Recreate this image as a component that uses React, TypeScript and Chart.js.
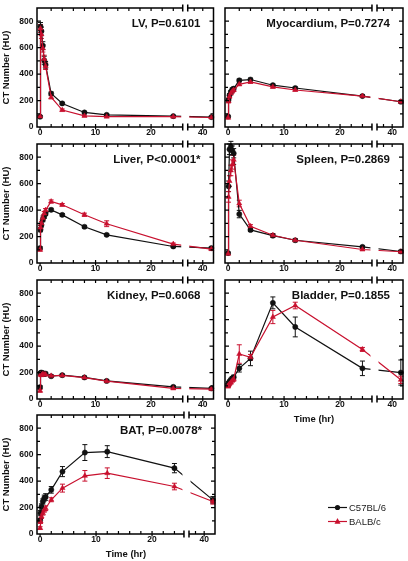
import { useEffect, useRef } from 'react';
import { Chart, registerables } from 'chart.js';

Chart.register(...registerables);

// Sampling times (hours after injection)
const hours = [0, 0.083, 0.25, 0.5, 0.75, 1, 2, 4, 8, 12, 24, 42];
const xTickHours = [0, 10, 20, 40];
const xMinorHours = [2, 4, 6, 8, 10, 12, 14, 16, 18, 20, 22, 24, 38, 40];
const yTickValues = [0, 200, 400, 600, 800];
const yMinorValues = [100, 200, 300, 400, 500, 600, 700, 800];

const strainNames = ['C57BL/6', 'BALB/c'];

// CT number (HU), mean and error per tissue
const lvC57 = [78, 760, 725, 615, 505, 470, 253, 178, 110, 92, 82, 75];
const lvC57Err = [8, 30, 30, 30, 30, 25, 12, 8, 6, 5, 5, 5];
const lvBalb = [80, 745, 700, 595, 515, 460, 225, 128, 84, 78, 78, 72];
const lvBalbErr = [8, 30, 30, 28, 28, 25, 12, 8, 6, 5, 5, 5];

const myoC57 = [80, 205, 240, 265, 283, 290, 353, 359, 316, 295, 234, 191];
const myoC57Err = [8, 12, 12, 12, 12, 12, 10, 10, 8, 8, 8, 8];
const myoBalb = [70, 195, 230, 255, 270, 280, 323, 341, 303, 280, 234, 191];
const myoBalbErr = [8, 12, 12, 12, 12, 12, 10, 10, 8, 8, 8, 8];

const liverC57 = [113, 251, 287, 327, 352, 372, 402, 364, 274, 213, 125, 113];
const liverC57Err = [10, 15, 15, 15, 15, 12, 12, 10, 10, 8, 8, 8];
const liverBalb = [100, 268, 300, 340, 375, 400, 465, 440, 365, 297, 143, 105];
const liverBalbErr = [10, 15, 15, 15, 15, 12, 12, 10, 12, 22, 8, 8];

const spleenC57 = [75, 580, 860, 880, 850, 830, 370, 250, 207, 172, 122, 87];
const spleenC57Err = [8, 40, 40, 40, 35, 35, 28, 12, 12, 10, 8, 8];
const spleenBalb = [70, 500, 620, 700, 745, 780, 450, 278, 210, 172, 102, 85];
const spleenBalbErr = [8, 40, 40, 40, 35, 35, 25, 12, 12, 10, 8, 8];

const kidneyC57 = [90, 197, 200, 195, 190, 192, 172, 180, 163, 137, 92, 80];
const kidneyC57Err = [10, 10, 10, 10, 10, 10, 8, 8, 8, 8, 8, 6];
const kidneyBalb = [62, 185, 180, 190, 185, 185, 175, 178, 162, 135, 80, 75];
const kidneyBalbErr = [10, 10, 10, 10, 10, 10, 8, 8, 8, 8, 8, 6];

const bladderC57 = [107, 120, 132, 145, 157, 165, 232, 307, 727, 545, 232, 200];
const bladderC57Err = [10, 10, 10, 12, 12, 15, 28, 55, 45, 75, 55, 95];
const bladderBalb = [95, 105, 115, 125, 140, 150, 340, 315, 620, 707, 375, 145];
const bladderBalbErr = [10, 10, 10, 12, 12, 15, 70, 22, 50, 25, 15, 28];

const batC57 = [103, 158, 208, 246, 272, 280, 334, 472, 616, 623, 498, 258];
const batC57Err = [15, 20, 20, 20, 22, 25, 25, 38, 60, 45, 35, 25];
const batBalb = [45, 95, 133, 158, 183, 195, 259, 347, 440, 460, 359, 246];
const batBalbErr = [10, 15, 15, 15, 18, 18, 15, 30, 40, 40, 25, 20];

const BLACK = '#111111';
const RED = '#c8102e';
const FONT = "'Liberation Sans', Arial, Helvetica, sans-serif";

// Broken time axis: 0-25.7 h, a short gap, then 36.5-42.5 h compressed
const AXIS_MIN = -0.55;
const MAIN_END = 25.7;
const GAP = 0.9;
const TAIL_START = 36.5;
const TAIL_END = 42.5;
const TAIL_SCALE = 0.774;
const toAxis = (h: number) =>
  h <= MAIN_END ? h : MAIN_END + GAP + (h - TAIL_START) * TAIL_SCALE;

// Frame placement on the page
const COL_LEFT = [37, 225];
const COL_RIGHT = [215, 403];
const ROW_TOP = [8, 144, 280, 415];
const FRAME_H = 119;

type Panel = {
  title: string;
  c57: number[];
  c57Err: number[];
  balb: number[];
  balbErr: number[];
  col: number;
  row: number;
  timeTitle?: boolean;
  legend?: boolean;
};

const panels: Panel[] = [
  { title: 'LV, P=0.6101', c57: lvC57, c57Err: lvC57Err, balb: lvBalb, balbErr: lvBalbErr, col: 0, row: 0 },
  { title: 'Myocardium, P=0.7274', c57: myoC57, c57Err: myoC57Err, balb: myoBalb, balbErr: myoBalbErr, col: 1, row: 0 },
  { title: 'Liver, P<0.0001*', c57: liverC57, c57Err: liverC57Err, balb: liverBalb, balbErr: liverBalbErr, col: 0, row: 1 },
  { title: 'Spleen, P=0.2869', c57: spleenC57, c57Err: spleenC57Err, balb: spleenBalb, balbErr: spleenBalbErr, col: 1, row: 1 },
  { title: 'Kidney, P=0.6068', c57: kidneyC57, c57Err: kidneyC57Err, balb: kidneyBalb, balbErr: kidneyBalbErr, col: 0, row: 2 },
  { title: 'Bladder, P=0.1855', c57: bladderC57, c57Err: bladderC57Err, balb: bladderBalb, balbErr: bladderBalbErr, col: 1, row: 2, timeTitle: true },
  { title: 'BAT, P=0.0078*', c57: batC57, c57Err: batC57Err, balb: batBalb, balbErr: batBalbErr, col: 0, row: 3, timeTitle: true, legend: true },
];

function drawMarker(ctx: CanvasRenderingContext2D, style: string, x: number, y: number, r: number, color: string) {
  ctx.fillStyle = color;
  ctx.beginPath();
  if (style === 'triangle') {
    ctx.moveTo(x, y - r * 1.15);
    ctx.lineTo(x + r, y + r * 0.75);
    ctx.lineTo(x - r, y + r * 0.75);
    ctx.closePath();
  } else {
    ctx.arc(x, y, r, 0, Math.PI * 2);
  }
  ctx.fill();
}

// Vertical error bars with caps, drawn under the markers
const errorBars = {
  id: 'errorBars',
  beforeDatasetsDraw(chart: any) {
    const { ctx } = chart;
    const ys = chart.scales.y;
    ctx.save();
    ctx.lineWidth = 1;
    chart.data.datasets.forEach((ds: any, i: number) => {
      const meta = chart.getDatasetMeta(i);
      ctx.strokeStyle = ds.borderColor;
      ctx.beginPath();
      meta.data.forEach((pt: any, j: number) => {
        const v = ds.data[j].y;
        const e = ds.errors[j];
        const y0 = ys.getPixelForValue(v - e);
        const y1 = ys.getPixelForValue(v + e);
        ctx.moveTo(pt.x, y0);
        ctx.lineTo(pt.x, y1);
        ctx.moveTo(pt.x - 2.5, y0);
        ctx.lineTo(pt.x + 2.5, y0);
        ctx.moveTo(pt.x - 2.5, y1);
        ctx.lineTo(pt.x + 2.5, y1);
      });
      ctx.stroke();
    });
    ctx.restore();
  },
};

// Boxed frame with inward ticks, the axis break, panel title and key
const panelDecor = {
  id: 'panelDecor',
  afterDatasetsDraw(chart: any, _args: any, opts: any) {
    const { ctx } = chart;
    const { left: L, right: R, top: T, bottom: B } = chart.chartArea;
    const xs = chart.scales.x;
    const ys = chart.scales.y;
    const g0 = xs.getPixelForValue(MAIN_END);
    const g1 = xs.getPixelForValue(MAIN_END + GAP);
    ctx.save();

    ctx.fillStyle = '#ffffff';
    ctx.fillRect(g0 - 1.5, T - 5, g1 - g0 + 3, B - T + 10);

    ctx.strokeStyle = '#000';
    ctx.lineWidth = 1.5;
    ctx.lineJoin = 'miter';
    ctx.beginPath();
    ctx.moveTo(g0, T);
    ctx.lineTo(L, T);
    ctx.lineTo(L, B);
    ctx.lineTo(g0, B);
    ctx.moveTo(g1, T);
    ctx.lineTo(R, T);
    ctx.lineTo(R, B);
    ctx.lineTo(g1, B);
    for (const y of [T, B]) {
      ctx.moveTo(g0, y - 3.5);
      ctx.lineTo(g0, y + 3.5);
      ctx.moveTo(g1, y - 3.5);
      ctx.lineTo(g1, y + 3.5);
    }
    ctx.stroke();

    ctx.lineWidth = 1.2;
    ctx.beginPath();
    for (const h of xMinorHours) {
      const px = xs.getPixelForValue(toAxis(h));
      ctx.moveTo(px, T);
      ctx.lineTo(px, T + 3);
      ctx.moveTo(px, B);
      ctx.lineTo(px, B - 3);
    }
    for (const h of xTickHours) {
      const px = xs.getPixelForValue(toAxis(h));
      ctx.moveTo(px, B);
      ctx.lineTo(px, B + 2.5);
    }
    for (const v of yMinorValues) {
      const py = ys.getPixelForValue(v);
      const len = v % 200 === 0 ? 4 : 3;
      ctx.moveTo(L, py);
      ctx.lineTo(L + len, py);
      ctx.moveTo(R, py);
      ctx.lineTo(R - len, py);
    }
    ctx.stroke();

    ctx.fillStyle = '#111';
    ctx.font = `bold 11.5px ${FONT}`;
    ctx.textAlign = 'right';
    ctx.textBaseline = 'middle';
    ctx.fillText(opts.title, R - 13, T + 16);

    if (opts.legend) {
      ctx.font = `9.5px ${FONT}`;
      ctx.textAlign = 'left';
      chart.data.datasets.forEach((ds: any, i: number) => {
        const y = 98.5 + i * 14;
        const x0 = 328;
        ctx.strokeStyle = ds.borderColor;
        ctx.lineWidth = 1.2;
        ctx.beginPath();
        ctx.moveTo(x0, y);
        ctx.lineTo(x0 + 19, y);
        ctx.stroke();
        drawMarker(ctx, ds.pointStyle, x0 + 9.5, y, ds.pointStyle === 'triangle' ? 3 : 2.6, ds.borderColor);
        ctx.fillStyle = '#222';
        ctx.fillText(ds.label, x0 + 21, y + 0.5);
      });
    }
    ctx.restore();
  },
};

function geometry(p: Panel) {
  const left = p.col === 0 ? 0 : 218;
  const w = p.legend ? 408 : p.col === 0 ? 218 : 190;
  const top = ROW_TOP[p.row] - 6;
  const xh = p.timeTitle ? 28 : 14;
  const h = 6 + FRAME_H + xh;
  return { left, w, top, h, xh, yw: COL_LEFT[p.col] - left, padRight: w - (COL_RIGHT[p.col] - left) };
}

function PanelChart({ panel }: { panel: Panel }) {
  const ref = useRef<HTMLCanvasElement>(null);
  const g = geometry(panel);

  useEffect(() => {
    const series = [
      { values: panel.c57, errs: panel.c57Err, color: BLACK, style: 'circle', radius: 2.6, order: 1 },
      { values: panel.balb, errs: panel.balbErr, color: RED, style: 'triangle', radius: 3, order: 0 },
    ];
    const chart = new Chart(ref.current as HTMLCanvasElement, {
      type: 'line',
      data: {
        datasets: series.map((s, i) => ({
          label: strainNames[i],
          data: hours.map((h, j) => ({ x: toAxis(h), y: s.values[j] })),
          errors: s.errs,
          borderColor: s.color,
          backgroundColor: s.color,
          pointStyle: s.style,
          pointRadius: s.radius,
          pointBorderWidth: 0.5,
          borderWidth: 1.2,
          tension: 0,
          order: s.order,
          clip: 8,
        })) as any,
      },
      options: {
        animation: false,
        responsive: false,
        devicePixelRatio: 1,
        layout: { padding: { left: 0, right: g.padRight, top: 6, bottom: 0 } },
        plugins: {
          legend: { display: false },
          tooltip: { enabled: false },
          panelDecor: { title: panel.title, legend: !!panel.legend },
        } as any,
        scales: {
          x: {
            type: 'linear',
            min: AXIS_MIN,
            max: toAxis(TAIL_END),
            grid: { display: false, drawTicks: false },
            border: { display: false },
            afterBuildTicks: (s: any) => {
              s.ticks = xTickHours.map((h) => ({ value: toAxis(h) }));
            },
            ticks: {
              callback: (_v: any, i: number) => String(xTickHours[i]),
              font: { family: FONT, size: 8.5, weight: 'bold' },
              color: '#111',
              padding: 1,
              maxRotation: 0,
              autoSkip: false,
            },
            title: {
              display: !!panel.timeTitle,
              text: 'Time (hr)',
              font: { family: FONT, size: 9.5, weight: 'bold' },
              color: '#111',
              padding: { top: 0, bottom: 2 },
            },
            afterFit: (s: any) => {
              s.height = g.xh;
              s.paddingLeft = 0;
              s.paddingRight = 0;
            },
          },
          y: {
            type: 'linear',
            min: 0,
            max: 900,
            grid: { display: false, drawTicks: false },
            border: { display: false },
            afterBuildTicks: (s: any) => {
              s.ticks = yTickValues.map((v) => ({ value: v }));
            },
            ticks: {
              display: panel.col === 0,
              font: { family: FONT, size: 8.5, weight: 'bold' },
              color: '#111',
              padding: 3.5,
            },
            title: {
              display: panel.col === 0,
              text: 'CT Number (HU)',
              font: { family: FONT, size: 9.5, weight: 'bold' },
              color: '#111',
              padding: { top: 1, bottom: 0 },
            },
            afterFit: (s: any) => {
              s.width = g.yw;
              s.paddingTop = 0;
              s.paddingBottom = 0;
            },
          },
        } as any,
      },
      plugins: [errorBars, panelDecor],
    } as any);
    return () => chart.destroy();
  }, [panel]);

  return (
    <canvas
      ref={ref}
      width={g.w}
      height={g.h}
      style={{ position: 'absolute', left: g.left, top: g.top, width: g.w, height: g.h }}
    />
  );
}

export default function App() {
  return (
    <div style={{ position: 'fixed', left: 0, top: 0, width: 408, height: 561, background: '#fff', overflow: 'hidden' }}>
      {panels.map((p) => (
        <PanelChart key={p.title} panel={p} />
      ))}
    </div>
  );
}
